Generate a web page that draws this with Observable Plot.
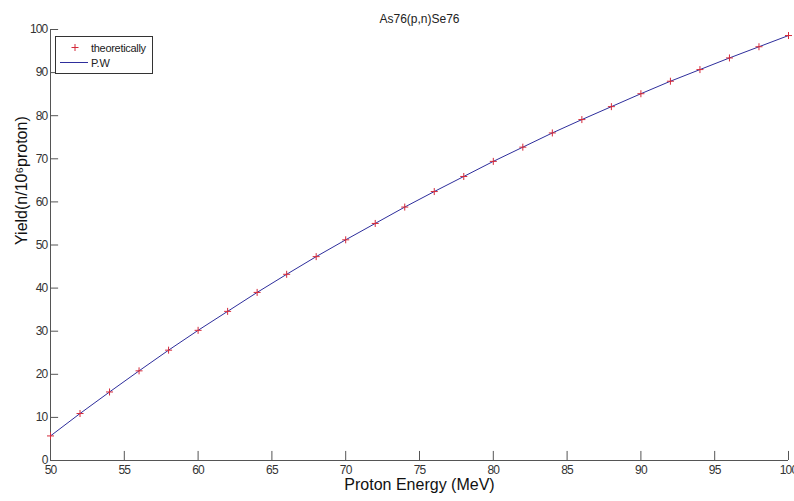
<!DOCTYPE html>
<html>
<head>
<meta charset="utf-8">
<script src="https://cdn.jsdelivr.net/npm/d3@7"></script>
<script src="https://cdn.jsdelivr.net/npm/@observablehq/plot@0.6"></script>
<style>
  html, body { margin: 0; padding: 0; background: #fff; }
  svg { display: block; }
</style>
</head>
<body>
<div id="chart"></div>
<script>
const title = "As76(p,n)Se76";
const xLabel = "Proton Energy (MeV)";
const yLabel = "Yield(n/10\u2076proton)";
const seriesNames = ["theoretically", "P.W"];

const energy = [50, 52, 54, 56, 58, 60, 62, 64, 66, 68, 70, 72, 74, 76, 78, 80, 82, 84, 86, 88, 90, 92, 94, 96, 98, 100];
const theoretical = [5.7, 10.9, 15.9, 20.8, 25.6, 30.2, 34.6, 39.0, 43.2, 47.3, 51.2, 55.0, 58.8, 62.4, 65.9, 69.4, 72.7, 76.0, 79.1, 82.1, 85.1, 88.0, 90.7, 93.4, 96.0, 98.6];
const pwYield = [5.7, 10.9, 15.9, 20.8, 25.6, 30.2, 34.6, 39.0, 43.2, 47.3, 51.2, 55.0, 58.8, 62.4, 65.9, 69.4, 72.7, 76.0, 79.1, 82.1, 85.1, 88.0, 90.7, 93.4, 96.0, 98.6];

const xTicks = [50, 55, 60, 65, 70, 75, 80, 85, 90, 95, 100];
const yTicks = [0, 10, 20, 30, 40, 50, 60, 70, 80, 90, 100];

const theoData = energy.map((e, i) => ({e, y: theoretical[i]}));
const pwData = energy.map((e, i) => ({e, y: pwYield[i]}));

const markerColor = "#d42a3a";
const lineColor = "#2e2e9c";
const axisColor = "#555";
const tickFont = "'Liberation Sans Narrow', 'Liberation Sans', Arial, sans-serif";
const mainFont = "'Liberation Sans', Arial, sans-serif";

// stroke-based plus symbol (MATLAB '+')
const plusSymbol = {
  draw(ctx, size) {
    const r = Math.sqrt(size / Math.PI);
    ctx.moveTo(-r, 0); ctx.lineTo(r, 0);
    ctx.moveTo(0, -r); ctx.lineTo(0, r);
  }
};

const svg = Plot.plot({
  width: 794,
  height: 501,
  marginLeft: 50,
  marginRight: 6,
  marginTop: 29,
  marginBottom: 41,
  style: {fontFamily: mainFont, background: "#fff", color: "#333"},
  x: {domain: [50, 100], label: null},
  y: {domain: [0, 100], label: null},
  marks: [
    Plot.ruleY([0], {stroke: axisColor}),
    Plot.ruleX([50], {stroke: axisColor}),
    Plot.ruleX(xTicks, {x: d => d, y1: 0, y2: 2.1, stroke: axisColor}),
    Plot.ruleY(yTicks, {y: d => d, x1: 50, x2: 50.55, stroke: axisColor}),
    Plot.axisX({ticks: xTicks, tickSize: 0, tickPadding: 5, fontSize: 12, fontFamily: tickFont, fill: "#333"}),
    Plot.axisY({ticks: yTicks, tickSize: 0, tickPadding: 3, fontSize: 12, fontFamily: tickFont, fill: "#333"}),
    Plot.line(pwData, {x: "e", y: "y", stroke: lineColor, strokeWidth: 1}),
    Plot.dot(theoData, {x: "e", y: "y", symbol: plusSymbol, r: 3.5, stroke: markerColor, strokeWidth: 1, fill: "none"}),
    Plot.text([title], {frameAnchor: "top", dy: -15, fontSize: 12, fill: "#222"}),
    Plot.text([xLabel], {frameAnchor: "bottom", dy: 29, fontSize: 16, fill: "#111"}),
    Plot.text([yLabel], {frameAnchor: "left", dx: -29, rotate: -90, fontSize: 16, fill: "#111"})
  ]
});

// tighten tick label glyphs to mimic the narrow MATLAB font
d3.select(svg).selectAll("[aria-label='x-axis tick label'] text, [aria-label='y-axis tick label'] text")
  .attr("letter-spacing", "-0.8");

// legend box (MATLAB-style)
const lg = d3.select(svg).append("g")
  .attr("font-family", mainFont).attr("font-size", 11).attr("letter-spacing", "-0.3")
  .attr("text-anchor", "start");
lg.append("rect").attr("x", 55.5).attr("y", 36.5).attr("width", 97).attr("height", 37)
  .attr("fill", "#fff").attr("stroke", "#333").attr("stroke-width", 1);
lg.append("path").attr("d", "M71.5,47.5h7M75,44v7").attr("stroke", markerColor).attr("fill", "none");
lg.append("text").attr("x", 91).attr("y", 51.5).attr("fill", "#222").text(seriesNames[0]);
lg.append("line").attr("x1", 60).attr("x2", 88).attr("y1", 62.5).attr("y2", 62.5).attr("stroke", lineColor);
lg.append("text").attr("x", 91).attr("y", 66.5).attr("fill", "#222").text(seriesNames[1]);

document.getElementById("chart").appendChild(svg);
</script>
</body>
</html>
